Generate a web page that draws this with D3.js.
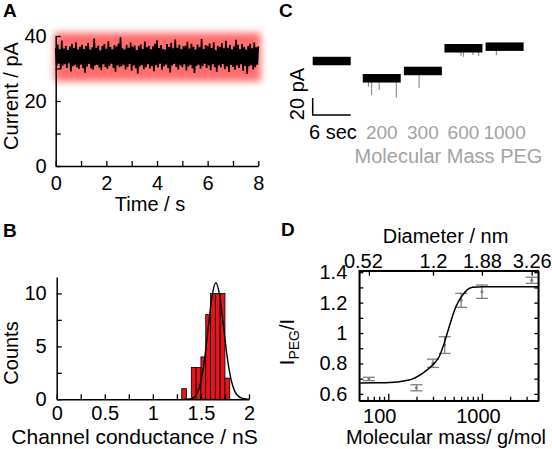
<!DOCTYPE html>
<html><head><meta charset="utf-8">
<script src="https://cdn.jsdelivr.net/npm/d3@7"></script>
<style>
html,body{margin:0;padding:0;background:#fff;}
svg{display:block;font-family:"Liberation Sans",Arial,Helvetica,sans-serif;}
</style></head><body>
<svg id="chart" width="552" height="449"></svg>
<script>
// ---------- Panel A: current trace (0.04 s sampling, read as an envelope of the noisy record) ----------
const timeRangeA = [0, 8];
const traceA = [
36.2,30.8,37.4,31.5,35.9,29.8,38.6,30.9,36.1,31.3,
37.0,30.2,35.7,31.6,36.8,29.1,37.6,30.7,36.3,31.0,
38.1,30.4,35.9,29.9,36.7,31.2,37.3,30.1,36.0,28.7,
36.9,30.6,37.8,31.4,35.8,30.0,36.5,29.6,39.2,30.9,
36.4,31.1,37.1,30.3,35.6,29.5,36.9,31.3,37.5,30.5,
36.1,29.9,38.4,30.8,36.6,31.5,35.9,30.2,37.2,28.9,
36.8,31.0,37.7,30.4,39.6,30.7,36.2,31.2,35.8,29.7,
37.3,30.5,36.4,31.4,38.0,29.3,36.7,30.9,37.1,30.1,
35.7,28.4,36.9,30.6,37.4,31.1,36.0,29.8,38.3,30.4,
36.5,31.3,37.0,30.0,35.9,30.8,36.8,29.2,37.6,31.0,
38.7,30.3,36.3,31.5,37.2,29.6,36.0,30.7,35.8,31.2,
37.5,30.1,36.6,28.8,37.9,30.9,36.2,31.4,38.9,30.5,
36.4,29.7,37.3,31.0,35.9,30.4,36.8,31.3,37.0,29.4,
38.2,30.6,36.1,31.1,37.6,30.0,36.7,28.6,35.8,30.8,
37.4,31.2,36.5,29.9,39.1,30.7,36.0,31.5,37.2,30.2,
36.9,30.9,37.7,29.5,36.3,31.3,38.1,30.4,35.7,29.0,
37.0,31.0,36.6,30.3,37.8,31.4,36.2,29.8,38.5,30.6,
36.4,28.9,37.2,31.1,35.9,30.5,36.8,29.6,38.8,30.9,
37.3,30.2,36.0,31.3,37.5,29.3,36.7,30.8,35.8,28.3,
36.9,30.7,37.6,31.0,36.2,29.7,38.0,30.4,36.5,31.2,
36.8];
const glowBandA = [26, 41];
const timeTicksA = [0,1,2,3,4,5,6,7,8];
const timeLabelsA = [0,2,4,6,8];
const currentTicksA = [0,10,20,30,40];
const currentLabelsA = [0,20,40];

// ---------- Panel B: conductance histogram ----------
const binStartB = [1.30,1.35,1.40,1.45,1.50,1.55,1.60,1.65,1.70,1.75];
const binWidthB = 0.05;
const countsB = [1,0,3,3,4,8,10,10,10,2];
const fitXB = [1.33,1.375,1.415,1.455,1.495,1.535,1.575,1.615,1.655,1.695,1.735,1.775,1.815,1.855,1.895,1.935,1.975,2.0];
const fitYB = [0,0.03,0.12,0.48,1.5,3.6,6.7,9.7,11.0,9.8,6.9,3.9,1.8,0.7,0.25,0.08,0.02,0];
const condTicksB = [0,0.25,0.5,0.75,1,1.25,1.5,1.75,2];
const condLabelsB = [0,0.5,1,1.5,2];
const countTicksB = [0,2.5,5,7.5,10];
const countLabelsB = [0,5,10];

// ---------- Panel C: PEG traces ----------
const segNamesC = ["", "200", "300", "600", "1000"];
const segStartC = [0, 7.9, 14.4, 20.8, 27.3];     // s
const segDurationC = 6;                            // s
const segLevelC = [63.5, 43.2, 51.8, 78.5, 80.4];  // pA
const segNoiseC = 5;                               // pA half width
const spikeSegC = [1,1,1,1,2,3,3,3,3,4];
const spikeTimeC = [0.9,1.4,2.6,5.3,2.4,2.6,3.0,4.5,5.4,1.7];
const spikeDepthC = [10,19.6,13.7,22.8,20,9,10,8,9,10];
const scaleBarC = {pA: 20, sec: 6};

// ---------- Panel D: PEG partitioning ----------
const massD = [62, 200, 300, 400, 600, 1000, 3400];
const ratioD = [0.698, 0.640, 0.801, 0.921, 1.215, 1.272, 1.347];
const errD = [0.011, 0.02, 0.027, 0.055, 0.046, 0.044, 0.02];
const fitMassD = [50, 94, 167, 232, 297, 349, 395, 447, 527, 622, 700, 795, 1016, 4000];
const fitRatioD = [0.672, 0.673, 0.691, 0.735, 0.790, 0.844, 0.932, 1.042, 1.173, 1.250, 1.285, 1.301, 1.305, 1.305];
const diamMassD = [62, 300, 1000, 3400];
const diamLabelsD = ["0.52", "1.2", "1.88", "3.26"];
const massTicksD = [60,70,80,90,100,200,300,400,500,600,700,800,900,1000,2000,3000];
const massLabelsD = [100, 1000];
const ratioTicksD = [0.6,0.7,0.8,0.9,1.0,1.1,1.2,1.3,1.4];
const ratioLabelsD = [0.6,0.8,1.0,1.2,1.4];

// =================== drawing ===================
const svg = d3.select("#chart");
const FONT = 20;
function styleAxis(g, fs) {
  g.attr("font-family", null).attr("font-size", null);
  g.selectAll("text").attr("font-size", fs || FONT).attr("fill", "#000");
  g.selectAll("path.domain").attr("stroke-width", 1.5).attr("stroke", "#000");
  g.selectAll(".tick line").attr("stroke-width", 1.3).attr("stroke", "#000");
}
function panelLabel(t, x, y) {
  svg.append("text").attr("x", x).attr("y", y).attr("font-weight", "bold")
    .attr("font-size", 19).text(t);
}

// ---- Panel A ----
const xA = d3.scaleLinear().domain(timeRangeA).range([55.7, 258.3]);
const yA = d3.scaleLinear().domain([0, 40]).range([166, 36]);
const defs = svg.append("defs");
defs.append("filter").attr("id", "glow").attr("x", "-20%").attr("y", "-50%").attr("width", "140%").attr("height", "200%")
  .append("feGaussianBlur").attr("stdDeviation", 3.5);
svg.append("rect")
  .attr("x", xA(-0.05)).attr("width", xA(8.1) - xA(-0.05))
  .attr("y", yA(glowBandA[1])).attr("height", yA(glowBandA[0]) - yA(glowBandA[1]))
  .attr("fill", "#ff4a4a").attr("opacity", 0.8).attr("filter", "url(#glow)");
const tA = traceA.map((_, i) => timeRangeA[0] + i * (timeRangeA[1] - timeRangeA[0]) / (traceA.length - 1));
svg.append("path").datum(traceA)
  .attr("d", d3.line().x((d, i) => xA(tA[i])).y(d => yA(d)))
  .attr("fill", "none").attr("stroke", "#000").attr("stroke-width", 1.7).attr("stroke-linejoin", "bevel");

const gxA = svg.append("g").attr("transform", `translate(0,${yA(0)})`)
  .call(d3.axisBottom(xA).tickValues(timeTicksA).tickSizeInner(-5).tickSizeOuter(0).tickPadding(10)
    .tickFormat(d => timeLabelsA.includes(d) ? d : ""));
styleAxis(gxA);
gxA.selectAll(".tick").filter(d => !timeLabelsA.includes(d)).select("text").remove();
const gyA = svg.append("g").attr("transform", `translate(${xA(0)},0)`)
  .call(d3.axisLeft(yA).tickValues(currentTicksA).tickSizeInner(-5).tickSizeOuter(0).tickPadding(9)
    .tickFormat(d => currentLabelsA.includes(d) ? d : ""));
styleAxis(gyA);
gyA.selectAll(".tick").filter(d => !currentLabelsA.includes(d)).select("text").remove();
svg.append("text").attr("x", 150).attr("y", 211).attr("text-anchor", "middle").attr("font-size", FONT).text("Time / s");
svg.append("text").attr("transform", "translate(18,96) rotate(-90)").attr("text-anchor", "middle").attr("font-size", FONT).text("Current / pA");
panelLabel("A", 3, 17);

// ---- Panel B ----
const xB = d3.scaleLinear().domain([0, 2]).range([56.7, 249]);
const yB = d3.scaleLinear().domain([0, 11.55]).range([399.3, 277]);
svg.append("g").selectAll("rect").data(binStartB.map((s, i) => ({s, c: countsB[i]})).filter(d => d.c > 0))
  .join("rect")
  .attr("x", d => xB(d.s)).attr("width", d => xB(d.s + binWidthB) - xB(d.s))
  .attr("y", d => yB(d.c)).attr("height", d => yB(0) - yB(d.c))
  .attr("fill", "#e8141a").attr("stroke", "#000").attr("stroke-width", 0.8);
svg.append("path").datum(fitXB)
  .attr("d", d3.line().x(d => xB(d)).y((d, i) => yB(fitYB[i])).curve(d3.curveMonotoneX))
  .attr("fill", "none").attr("stroke", "#000").attr("stroke-width", 1.4);
const gxB = svg.append("g").attr("transform", `translate(0,${yB(0)})`)
  .call(d3.axisBottom(xB).tickValues(condTicksB).tickSizeInner(-5).tickSizeOuter(0).tickPadding(7)
    .tickFormat(d => condLabelsB.includes(d) ? d : ""));
styleAxis(gxB);
gxB.selectAll(".tick").filter(d => !condLabelsB.includes(d)).select("text").remove();
const gyB = svg.append("g").attr("transform", `translate(${xB(0)},0)`)
  .call(d3.axisLeft(yB).tickValues(countTicksB).tickSizeInner(-5).tickSizeOuter(0).tickPadding(10)
    .tickFormat(d => countLabelsB.includes(d) ? d : ""));
styleAxis(gyB);
gyB.selectAll(".tick").filter(d => !countLabelsB.includes(d)).select("text").remove();
svg.append("text").attr("x", 134.5).attr("y", 444).attr("text-anchor", "middle").attr("font-size", 21).text("Channel conductance / nS");
svg.append("text").attr("transform", "translate(18,353) rotate(-90)").attr("text-anchor", "middle").attr("font-size", FONT).text("Counts");
panelLabel("B", 3, 237);

// ---- Panel C ----
const xC = d3.scaleLinear().domain([0, 6]).range([312.7, 350.7]);
const yC = d3.scaleLinear().domain([0, 20]).range([115, 98]);
const gC = svg.append("g");
gC.selectAll("line.spike").data(spikeSegC.map((s, i) => ({s, t: spikeTimeC[i], d: spikeDepthC[i]})))
  .join("line").attr("class", "spike")
  .attr("x1", d => xC(segStartC[d.s] + d.t)).attr("x2", d => xC(segStartC[d.s] + d.t))
  .attr("y1", d => yC(segLevelC[d.s])).attr("y2", d => yC(segLevelC[d.s] - d.d))
  .attr("stroke", "#8a8a8a").attr("stroke-width", 1.1);
gC.selectAll("rect.seg").data(segStartC).join("rect").attr("class", "seg")
  .attr("x", d => xC(d)).attr("width", d => xC(d + segDurationC) - xC(d))
  .attr("y", (d, i) => yC(segLevelC[i] + segNoiseC)).attr("height", (d, i) => yC(segLevelC[i] - segNoiseC) - yC(segLevelC[i] + segNoiseC))
  .attr("fill", "#000");
gC.append("path")
  .attr("d", `M${xC(0)},${yC(scaleBarC.pA)}V${yC(0)}H${xC(scaleBarC.sec)}`)
  .attr("fill", "none").attr("stroke", "#000").attr("stroke-width", 1.5);
gC.append("text").attr("transform", `translate(304,94) rotate(-90)`).attr("text-anchor", "middle").attr("font-size", FONT).text("20 pA");
gC.append("text").attr("x", 309).attr("y", 139).attr("font-size", FONT).text("6 sec");
gC.selectAll("text.peg").data(segNamesC.slice(1)).join("text").attr("class", "peg")
  .attr("x", (d, i) => xC(segStartC[i + 1] + segDurationC / 2)).attr("y", 139)
  .attr("text-anchor", "middle").attr("font-size", 19).attr("fill", "#a3a3a3").text(d => d);
gC.append("text").attr("x", 448.5).attr("y", 163).attr("text-anchor", "middle").attr("font-size", FONT).attr("fill", "#a3a3a3").text("Molecular Mass PEG");
panelLabel("C", 279, 17);

// ---- Panel D ----
const xD = d3.scaleLog().domain([49, 4000]).range([359.3, 538.3]);
const yD = d3.scaleLinear().domain([0.555, 1.41]).range([400.7, 270.7]);
const gD = svg.append("g");
const pts = massD.map((m, i) => ({m, v: ratioD[i], e: errD[i]}));
const eb = gD.selectAll("g.eb").data(pts).join("g").attr("class", "eb").attr("stroke", "#7f7f7f").attr("stroke-width", 1.3);
eb.append("line").attr("x1", d => xD(d.m)).attr("x2", d => xD(d.m)).attr("y1", d => yD(d.v - d.e)).attr("y2", d => yD(d.v + d.e));
eb.append("line").attr("x1", d => xD(d.m) - 6).attr("x2", d => xD(d.m) + 6).attr("y1", d => yD(d.v - d.e)).attr("y2", d => yD(d.v - d.e));
eb.append("line").attr("x1", d => xD(d.m) - 6).attr("x2", d => xD(d.m) + 6).attr("y1", d => yD(d.v + d.e)).attr("y2", d => yD(d.v + d.e));
eb.append("circle").attr("cx", d => xD(d.m)).attr("cy", d => yD(d.v)).attr("r", 1.5).attr("fill", "#7f7f7f").attr("stroke", "none");
gD.append("path").datum(fitMassD)
  .attr("d", d3.line().x(d => xD(d)).y((d, i) => yD(fitRatioD[i])).curve(d3.curveMonotoneX))
  .attr("fill", "none").attr("stroke", "#000").attr("stroke-width", 1.5);
const gxD = gD.append("g").attr("transform", `translate(0,${yD.range()[0]})`)
  .call(d3.axisBottom(xD).tickValues(massTicksD).tickSizeInner(-4).tickSizeOuter(0).tickPadding(8)
    .tickFormat(d => massLabelsD.includes(d) ? d : ""));
styleAxis(gxD);
gxD.selectAll(".tick").filter(d => !massLabelsD.includes(d)).select("text").remove();
gxD.selectAll(".tick").filter(d => massLabelsD.includes(d)).select("line").attr("y2", -7);
gxD.selectAll(".tick text").attr("dx", d => d === 100 ? -9 : -4);
const gx2D = gD.append("g").attr("transform", `translate(0,${yD.range()[1]})`)
  .call(d3.axisTop(xD).tickValues(diamMassD).tickSizeInner(-5).tickSizeOuter(0).tickPadding(3)
    .tickFormat((d, i) => diamLabelsD[i]));
styleAxis(gx2D);
gx2D.selectAll(".tick text").attr("dx", (d, i) => i === 0 ? -6 : 0);
const gyD = gD.append("g").attr("transform", `translate(${xD.range()[0]},0)`)
  .call(d3.axisLeft(yD).tickValues(ratioTicksD).tickSizeInner(-4).tickSizeOuter(0).tickPadding(12)
    .tickFormat(d => ratioLabelsD.some(v => Math.abs(v - d) < 1e-9) ? d3.format("")(+d.toFixed(1)) : ""));
styleAxis(gyD);
gyD.selectAll(".tick").filter(d => !ratioLabelsD.some(v => Math.abs(v - d) < 1e-9)).select("text").remove();
const gy2D = gD.append("g").attr("transform", `translate(${xD.range()[1]},0)`)
  .call(d3.axisRight(yD).tickValues(ratioTicksD).tickSizeInner(-4).tickSizeOuter(0).tickFormat(""));
styleAxis(gy2D);
gy2D.selectAll(".tick text").remove();
gD.append("rect").attr("x", xD.range()[0]).attr("y", yD.range()[1])
  .attr("width", xD.range()[1] - xD.range()[0]).attr("height", yD.range()[0] - yD.range()[1])
  .attr("fill", "none").attr("stroke", "#000").attr("stroke-width", 1.5);
svg.append("text").attr("x", 446).attr("y", 444).attr("text-anchor", "middle").attr("font-size", FONT).text("Molecular mass/ g/mol");
svg.append("text").attr("x", 445.5).attr("y", 243).attr("text-anchor", "middle").attr("font-size", FONT).text("Diameter / nm");
const yl = svg.append("text").attr("transform", "translate(294,342) rotate(-90)").attr("text-anchor", "middle").attr("font-size", FONT);
yl.append("tspan").text("I");
yl.append("tspan").attr("font-size", 14).attr("dy", 5).text("PEG");
yl.append("tspan").attr("dy", -5).text("/I");
panelLabel("D", 281, 236);
</script>
</body></html>
